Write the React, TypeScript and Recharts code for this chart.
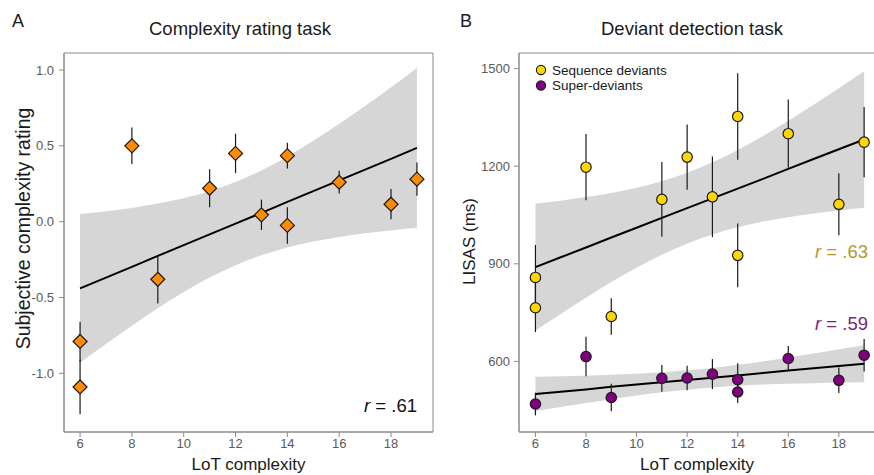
import React from 'react';
import {
  ComposedChart, XAxis, YAxis, Area, Line, Scatter, ErrorBar, ReferenceArea,
} from 'recharts';

// ---------- data ----------
const xTicks = [6, 8, 10, 12, 14, 16, 18];
const ratingTicks = [-1, -0.5, 0, 0.5, 1];
const lisasTicks = [600, 900, 1200, 1500];

// Panel A: complexity rating
const ratingX = [6, 6, 8, 9, 11, 12, 13, 14, 14, 16, 18, 19];
const ratingY = [-0.79, -1.09, 0.5, -0.38, 0.22, 0.45, 0.045, 0.435, -0.025, 0.26, 0.115, 0.28];
const ratingErr = [0.13, 0.18, 0.12, 0.16, 0.125, 0.13, 0.1, 0.085, 0.12, 0.075, 0.1, 0.11];

const fitX = [6, 7, 8, 9, 10, 11, 12, 13, 14, 15, 16, 17, 18, 19];
const ratingFit = [-0.44, -0.369, -0.298, -0.226, -0.155, -0.084, -0.013, 0.058, 0.13, 0.201, 0.272, 0.343, 0.414, 0.486];
const ratingLo = [-0.93, -0.806, -0.686, -0.571, -0.464, -0.369, -0.287, -0.222, -0.17, -0.131, -0.101, -0.077, -0.058, -0.041];
const ratingHi = [0.05, 0.069, 0.09, 0.119, 0.154, 0.201, 0.261, 0.338, 0.43, 0.533, 0.645, 0.763, 0.886, 1.013];

// Panel B: deviant detection
const seqX = [6, 6, 8, 9, 11, 12, 13, 14, 14, 16, 18, 19];
const seqY = [858, 765, 1197, 738, 1098, 1228, 1106, 1353, 926, 1300, 1083, 1274];
const seqErr = [100, 75, 102, 56, 115, 100, 124, 133, 98, 105, 95, 108];
const supX = [6, 8, 9, 11, 12, 13, 14, 14, 16, 18, 19];
const supY = [469, 615, 489, 548, 549, 561, 544, 506, 609, 542, 619];
const supErr = [35, 61, 42, 41, 38, 46, 50, 34, 38, 39, 50];

const seqFit = [890, 920, 950, 981, 1011, 1041, 1071, 1101, 1131, 1161, 1192, 1222, 1252, 1282];
const seqLo = [695, 746, 796, 844, 888, 928, 962, 990, 1012, 1030, 1043, 1055, 1064, 1072];
const seqHi = [1085, 1094, 1105, 1118, 1134, 1154, 1180, 1212, 1250, 1293, 1340, 1389, 1440, 1492];
const supFit = [500, 507, 514, 522, 529, 536, 543, 550, 557, 564, 572, 579, 586, 593];
const supLo = [447, 460, 472, 484, 495, 505, 513, 520, 525, 529, 531, 533, 535, 536];
const supHi = [553, 554, 556, 559, 562, 567, 573, 580, 590, 600, 612, 624, 637, 650];

const seriesNames = ['Sequence deviants', 'Super-deviants'];
const seriesColors = ['#FFD700', '#800080'];
const rLabels = ['.61', '.63', '.59'];
const rColors = ['#111111', '#b8972a', '#7a1f7a'];

// ---------- derived tables ----------
const ratingPoints = ratingX.map((x, i) => ({ x, y: ratingY[i], err: ratingErr[i] }));
const ratingRows = fitX.map((x, i) => ({ x, fit: ratingFit[i], band: [ratingLo[i], ratingHi[i]] }));
const seqPoints = seqX.map((x, i) => ({ x, y: seqY[i], err: seqErr[i] }));
const supPoints = supX.map((x, i) => ({ x, y: supY[i], err: supErr[i] }));
const lisasRows = fitX.map((x, i) => ({
  x,
  seqFit: seqFit[i], seqBand: [seqLo[i], seqHi[i]],
  supFit: supFit[i], supBand: [supLo[i], supHi[i]],
}));

// ---------- styles ----------
const FONT = '"Liberation Sans", Arial, Helvetica, sans-serif';
const AXIS = '#8a8a8a';
const TICK = { fill: '#5a5a5a', fontSize: 13, fontFamily: FONT };
const BAND = '#d6d6d6';
const INK = '#1a1a1a';

const Diamond = (props: any) => {
  const { cx, cy } = props;
  if (cx == null || cy == null) return null;
  const h = 7;
  return (
    <polygon
      points={`${cx},${cy - h} ${cx + h},${cy} ${cx},${cy + h} ${cx - h},${cy}`}
      fill="#FF8C00" stroke={INK} strokeWidth={1.2}
    />
  );
};

const makeDot = (fill: string) => (props: any) => {
  const { cx, cy } = props;
  if (cx == null || cy == null) return null;
  return <circle cx={cx} cy={cy} r={5.2} fill={fill} stroke={INK} strokeWidth={1.2} />;
};

const yTitle = (text: string, dx: number, dy: number, size: number) => (props: any) => {
  const vb = props.viewBox || {};
  const cx = (vb.x || 0) + dx;
  const cy = (vb.y || 0) + (vb.height || 0) / 2 + dy;
  return (
    <text x={cx} y={cy} transform={`rotate(-90 ${cx} ${cy})`} textAnchor="middle"
      dominantBaseline="central" fontSize={size} fontFamily={FONT} fill={INK}>
      {text}
    </text>
  );
};

const xLabel = { value: 'LoT complexity', position: 'insideBottom', offset: 5, fontSize: 17, fontFamily: FONT, fill: INK } as any;

const ratingXDomain: [number, number] = [5.38, 19.62];
const ratingYDomain: [number, number] = [-1.387, 1.112];
const lisasXDomain: [number, number] = [5.35, 19.43];
const lisasYDomain: [number, number] = [383, 1548];

export default function App() {
  return (
    <div style={{ position: 'absolute', left: 0, top: 0, width: 874, height: 475, overflow: 'hidden', background: '#fff' }}>
      <div style={{ position: 'absolute', left: 0, top: 0 }}>
        <ComposedChart width={440} height={475} data={ratingRows} margin={{ top: 53, right: 7, bottom: 0, left: 0 }}>
          <XAxis type="number" dataKey="x" domain={ratingXDomain} ticks={xTicks} allowDataOverflow
            height={43} tickSize={5} tickMargin={2} stroke={AXIS} tick={TICK} label={xLabel} />
          <YAxis type="number" domain={ratingYDomain} ticks={ratingTicks} allowDataOverflow width={64}
            tickSize={5} tickMargin={5} stroke={AXIS} tick={TICK}
            tickFormatter={(v: number) => v.toFixed(1)}
            label={{ value: 'Subjective complexity rating', content: yTitle('Subjective complexity rating', 23, -14, 19.5) } as any} />
          <ReferenceArea x1={ratingXDomain[0]} x2={ratingXDomain[1]} y1={ratingYDomain[0]} y2={ratingYDomain[1]}
            fill="none" stroke={AXIS} strokeWidth={1} ifOverflow="visible" />
          <Area dataKey="band" type="monotone" fill={BAND} fillOpacity={1} stroke="none" isAnimationActive={false} />
          <Line dataKey="fit" type="linear" stroke="#000" strokeWidth={2} dot={false} isAnimationActive={false} />
          <Scatter data={ratingPoints} dataKey="y" shape={Diamond} isAnimationActive={false}>
            <ErrorBar dataKey="err" direction="y" width={0} stroke={INK} strokeWidth={1.2} />
          </Scatter>
        </ComposedChart>
      </div>
      <div style={{ position: 'absolute', left: 440, top: 0 }}>
        <ComposedChart width={436} height={475} data={lisasRows} margin={{ top: 53, right: 1, bottom: 0, left: 0 }}>
          <XAxis type="number" dataKey="x" domain={lisasXDomain} ticks={xTicks} allowDataOverflow
            height={43} tickSize={5} tickMargin={2} stroke={AXIS} tick={TICK} label={xLabel} />
          <YAxis type="number" domain={lisasYDomain} ticks={lisasTicks} allowDataOverflow width={79}
            tickSize={5} tickMargin={4} stroke={AXIS} tick={TICK}
            label={{ value: 'LISAS (ms)', content: yTitle('LISAS (ms)', 29, -1, 17) } as any} />
          <ReferenceArea x1={lisasXDomain[0]} x2={lisasXDomain[1]} y1={lisasYDomain[0]} y2={lisasYDomain[1]}
            fill="none" stroke={AXIS} strokeWidth={1} ifOverflow="visible" />
          <Area dataKey="seqBand" type="monotone" fill={BAND} fillOpacity={1} stroke="none" isAnimationActive={false} />
          <Area dataKey="supBand" type="monotone" fill={BAND} fillOpacity={1} stroke="none" isAnimationActive={false} />
          <Line dataKey="seqFit" type="linear" stroke="#000" strokeWidth={2} dot={false} isAnimationActive={false} />
          <Line dataKey="supFit" type="linear" stroke="#000" strokeWidth={2} dot={false} isAnimationActive={false} />
          <Scatter data={seqPoints} dataKey="y" name={seriesNames[0]} shape={makeDot(seriesColors[0])} isAnimationActive={false}>
            <ErrorBar dataKey="err" direction="y" width={0} stroke={INK} strokeWidth={1.2} />
          </Scatter>
          <Scatter data={supPoints} dataKey="y" name={seriesNames[1]} shape={makeDot(seriesColors[1])} isAnimationActive={false}>
            <ErrorBar dataKey="err" direction="y" width={0} stroke={INK} strokeWidth={1.2} />
          </Scatter>
        </ComposedChart>
      </div>
      <svg width={874} height={475} style={{ position: 'absolute', left: 0, top: 0, pointerEvents: 'none' }}
        fontFamily={FONT}>
        <text x={12} y={27} fontSize={18} fill={INK}>A</text>
        <text x={460} y={27} fontSize={18} fill={INK}>B</text>
        <text x={240} y={35} fontSize={18.5} fill={INK} textAnchor="middle">Complexity rating task</text>
        <text x={692} y={35} fontSize={18.5} fill={INK} textAnchor="middle">Deviant detection task</text>
        {seriesNames.map((n, i) => (
          <g key={n}>
            <circle cx={541} cy={70 + i * 15.5} r={4.6} fill={seriesColors[i]} stroke={INK} strokeWidth={1.1} />
            <text x={552} y={70 + i * 15.5 + 4.8} fontSize={13.5} fill={INK}>{n}</text>
          </g>
        ))}
        <text x={417} y={412} fontSize={18.5} fill={rColors[0]} textAnchor="end">
          <tspan fontStyle="italic">r</tspan> = {rLabels[0]}
        </text>
        <text x={868} y={258} fontSize={18.5} fill={rColors[1]} textAnchor="end">
          <tspan fontStyle="italic">r</tspan> = {rLabels[1]}
        </text>
        <text x={868} y={330} fontSize={18.5} fill={rColors[2]} textAnchor="end">
          <tspan fontStyle="italic">r</tspan> = {rLabels[2]}
        </text>
      </svg>
    </div>
  );
}
